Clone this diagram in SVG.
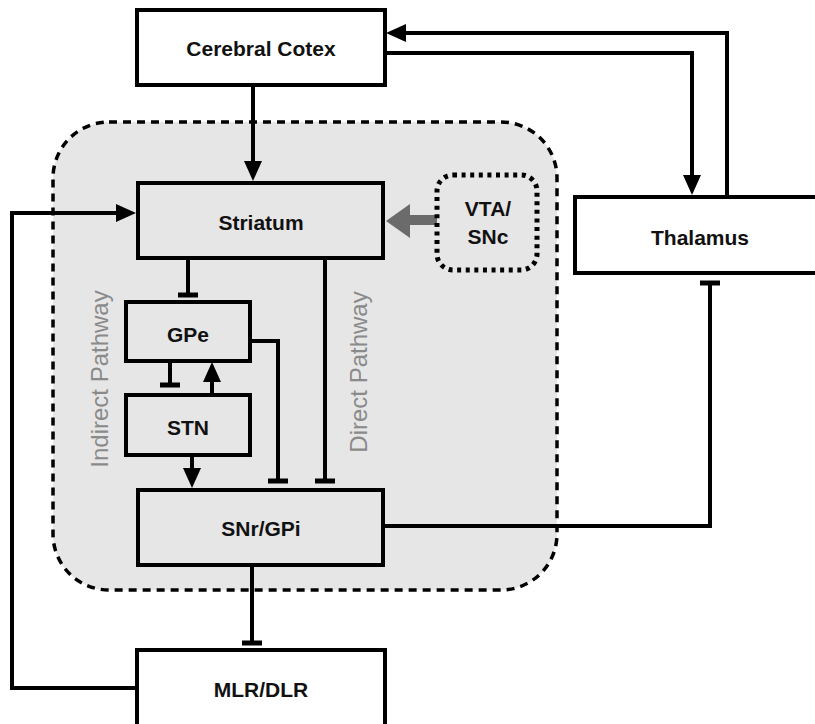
<svg xmlns="http://www.w3.org/2000/svg" width="815" height="724" viewBox="0 0 815 724">
<defs>
<style>
.box{fill:#ffffff;stroke:#000;stroke-width:4}
.inbox{fill:#e6e6e6;stroke:#000;stroke-width:4}
.lbl{font-family:"Liberation Sans",Arial,sans-serif;font-size:21px;font-weight:bold;fill:#111;text-anchor:middle}
.path-lbl{font-family:"Liberation Sans",Arial,sans-serif;font-size:24px;fill:#8a8a8a;text-anchor:middle}
.conn{fill:none;stroke:#000;stroke-width:4}
</style>
<marker id="arrow" markerUnits="userSpaceOnUse" viewBox="0 -10 21 20" refX="0" refY="0" markerWidth="21" markerHeight="20" orient="auto">
<path d="M0,-9 L20,0 L0,9 Z" fill="#000"/>
</marker>
<marker id="tee" markerUnits="userSpaceOnUse" viewBox="-4 -12 8 24" refX="0" refY="0" markerWidth="8" markerHeight="24" orient="auto">
<path d="M0,-10 V10" stroke="#000" stroke-width="5"/>
</marker>
</defs>
<rect width="815" height="724" fill="#ffffff"/>

<g id="basal-ganglia-region">
<rect x="53" y="122" width="504" height="468" rx="56" ry="56" fill="#e6e6e6" stroke="#000" stroke-width="3.5" stroke-dasharray="8 6"/>
</g>

<g id="connectors">
<path class="conn" d="M727,197 V33 H406" marker-end="url(#arrow)"/>
<path class="conn" d="M387,53 H692 V175" marker-end="url(#arrow)"/>
<path class="conn" d="M253,87 V161" marker-end="url(#arrow)"/>
<path class="conn" d="M137,688 H12 V213 H116" marker-end="url(#arrow)"/>
<path d="M437,220 H405" fill="none" stroke="#6b6b6b" stroke-width="10"/>
<polygon points="386,221 410,204 410,238" fill="#6b6b6b"/>
<path class="conn" d="M188,258 V295" marker-end="url(#tee)"/>
<path class="conn" d="M325,258 V481" marker-end="url(#tee)"/>
<path class="conn" d="M250,341 H278 V481" marker-end="url(#tee)"/>
<path class="conn" d="M170,361 V385" marker-end="url(#tee)"/>
<path class="conn" d="M212,395 V382" marker-end="url(#arrow)"/>
<path class="conn" d="M192,455 V468" marker-end="url(#arrow)"/>
<path class="conn" d="M383,526 H710 V283" marker-end="url(#tee)"/>
<path class="conn" d="M252,565 V643" marker-end="url(#tee)"/>
</g>

<g id="cerebral-cortex">
<rect class="box" x="137" y="10" width="248" height="75"/>
<text class="lbl" x="261" y="56">Cerebral Cotex</text>
</g>

<g id="thalamus">
<rect class="box" x="575" y="197" width="250" height="76"/>
<text class="lbl" x="700" y="245">Thalamus</text>
</g>

<g id="striatum">
<rect class="inbox" x="138" y="183" width="245" height="75"/>
<text class="lbl" x="261" y="230">Striatum</text>
</g>

<g id="vta-snc">
<rect x="437" y="175" width="100" height="95" rx="16" ry="16" fill="#e6e6e6" stroke="#000" stroke-width="5" stroke-dasharray="4 4.6"/>
<text class="lbl" x="488" y="216">VTA/</text>
<text class="lbl" x="488" y="244">SNc</text>
</g>

<g id="gpe">
<rect class="inbox" x="126" y="302" width="124" height="59"/>
<text class="lbl" x="188" y="342">GPe</text>
</g>

<g id="stn">
<rect class="inbox" x="126" y="395" width="124" height="60"/>
<text class="lbl" x="188" y="435">STN</text>
</g>

<g id="snr-gpi">
<rect class="inbox" x="138" y="490" width="245" height="75"/>
<text class="lbl" x="261" y="536">SNr/GPi</text>
</g>

<g id="mlr-dlr">
<rect class="box" x="137" y="650" width="248" height="85"/>
<text class="lbl" x="261" y="697">MLR/DLR</text>
</g>

<g id="pathway-labels">
<text class="path-lbl" transform="translate(108,379) rotate(-90)">Indirect Pathway</text>
<text class="path-lbl" transform="translate(367,372) rotate(-90)">Direct Pathway</text>
</g>
</svg>
